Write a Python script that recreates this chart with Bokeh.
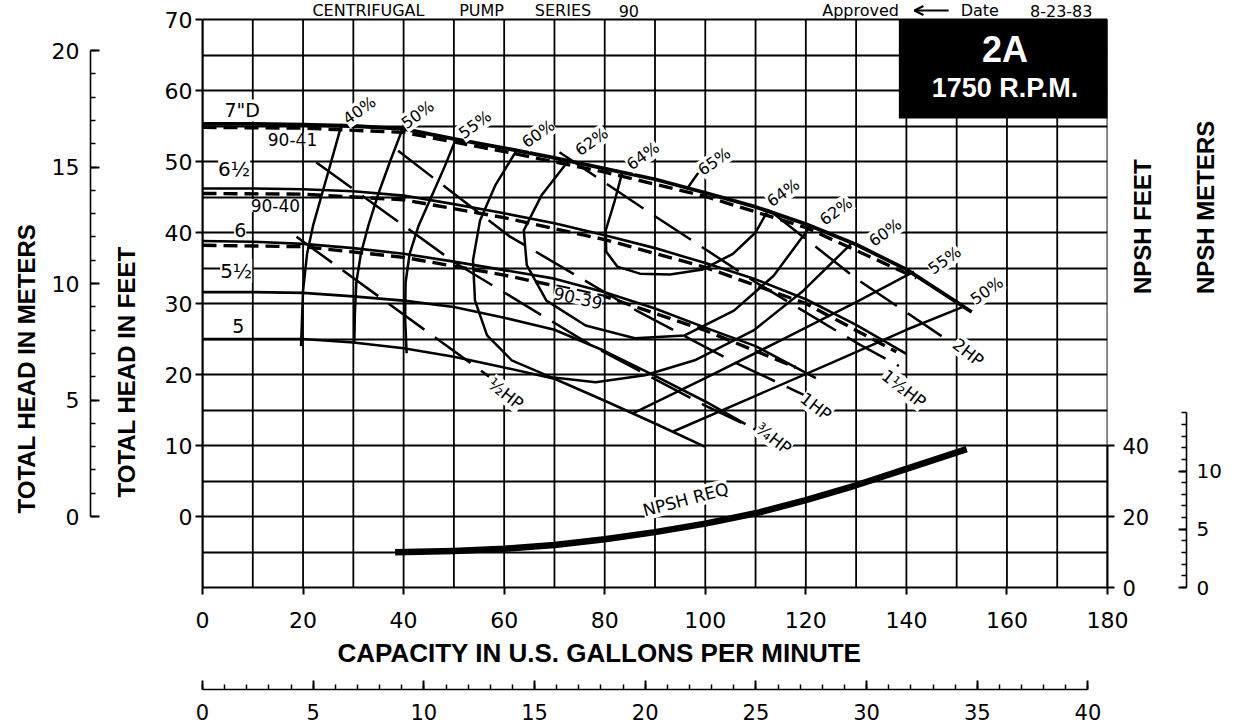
import math
from bokeh.plotting import figure
from bokeh.models import (Range1d, LinearAxis, FixedTicker, Label, BoxAnnotation,
                          Arrow, OpenHead, CustomJSTickFormatter, Title)
from bokeh.embed import file_html
from bokeh.resources import INLINE

# ---------------- data ----------------
gpm_ticks = [0, 20, 40, 60, 80, 100, 120, 140, 160, 180]
gpm_grid = [0, 10, 20, 30, 40, 50, 60, 70, 80, 90, 100, 110, 120, 130, 140, 150, 160, 170, 180]
head_ft_ticks = [0, 10, 20, 30, 40, 50, 60, 70]
head_ft_grid = [-10, -5, 0, 5, 10, 15, 20, 25, 30, 35, 40, 45, 50, 55, 60, 65, 70]
head_m_ticks = [0, 5, 10, 15, 20]
npsh_ft_ticks = [0, 20, 40]
npsh_m_ticks = [0, 5, 10]
m3h_ticks = [0, 5, 10, 15, 20, 25, 30, 35, 40]

FT_PER_M = 3.28084
GPM_PER_M3H = 4.40287

# head-capacity curves (capacity US gpm, total head ft)
d70_gpm = [0, 10, 20, 30, 40, 50, 60, 70, 80, 90, 100, 110, 120, 130, 140, 150, 153]
d70_ft = [55.3, 55.3, 55.2, 55.0, 54.6, 53.2, 51.9, 50.5, 49.0, 47.5, 45.6, 43.6, 41.2, 38.3, 34.8, 30.2, 28.8]
d65_gpm = [0, 10, 20, 30, 40, 50, 60, 70, 80, 90, 100, 110, 120, 130, 140]
d65_ft = [46.2, 46.2, 46.1, 45.8, 45.2, 44.0, 42.7, 41.3, 39.6, 37.8, 35.7, 33.4, 30.6, 27.0, 22.9]
d60_gpm = [0, 10, 20, 30, 40, 50, 60, 70, 80, 90, 100, 110, 122]
d60_ft = [38.8, 38.7, 38.4, 37.8, 37.0, 35.9, 34.7, 33.5, 31.6, 29.3, 26.6, 24.0, 19.5]
d55_gpm = [0, 10, 20, 30, 40, 50, 60, 70, 80, 90, 100, 108]
d55_ft = [31.6, 31.6, 31.5, 31.0, 30.4, 29.5, 28.0, 26.3, 23.3, 19.8, 16.2, 13.0]
d50_gpm = [0, 10, 20, 30, 40, 50, 60, 70, 80, 90, 100]
d50_ft = [25.0, 25.0, 25.0, 24.5, 23.7, 22.5, 21.0, 19.4, 16.3, 13.1, 9.8]

# test curves (dashed)
t9041_gpm = [0, 20, 40, 60, 80, 100, 120, 142]
t9041_ft = [54.8, 54.7, 54.1, 51.4, 48.5, 45.1, 40.7, 33.6]
t9040_gpm = [0, 20, 40, 60, 80, 100, 120, 138]
t9040_ft = [45.5, 45.4, 44.6, 42.1, 39.0, 35.1, 30.0, 23.2]
t9039_gpm = [0, 20, 40, 60, 80, 100, 118]
t9039_ft = [38.2, 38.0, 36.5, 34.0, 31.0, 26.2, 21.0]

# efficiency curves
e40_gpm = [19.6, 19.8, 20.0, 20.8, 22.0, 23.6, 25.4, 27.7]
e40_ft = [24.0, 28.0, 31.8, 37.0, 41.0, 45.0, 49.5, 55.3]
e50a_gpm = [30.2, 30.3, 30.6, 31.5, 33.0, 35.0, 37.3, 39.9]
e50a_ft = [24.4, 28.5, 33.0, 37.0, 41.0, 45.5, 50.0, 54.8]
e50b_gpm = [93.4, 110, 125, 140, 151.5]
e50b_ft = [11.9, 17.0, 21.6, 26.3, 29.6]
e55a_gpm = [40.6, 40.3, 40.4, 41.2, 43.0, 45.5, 48.0, 50.3]
e55a_ft = [23.0, 28.0, 33.0, 37.0, 41.0, 45.0, 49.0, 53.0]
e55b_gpm = [85.5, 100, 115, 130, 141.5]
e55b_ft = [14.5, 19.5, 24.8, 30.2, 34.5]
e60_gpm = [62.5, 58.2, 55.2, 53.8, 54.2, 56.6, 61.5, 69.4, 78.2, 88.0, 97.9, 109.6, 119.5, 129.3]
e60_ft = [51.6, 46.6, 41.7, 36.1, 30.4, 25.5, 22.0, 19.6, 18.9, 19.9, 22.0, 26.2, 31.8, 38.6]
e62_gpm = [72.9, 67.4, 63.9, 64.5, 68.4, 76.2, 86.0, 95.9, 105.7, 113.6, 121.0]
e62_ft = [50.2, 45.2, 40.3, 35.4, 30.4, 26.9, 25.1, 25.5, 29.0, 33.9, 41.0]
e64_gpm = [83.5, 82.0, 80.2, 80.3, 82.5, 87.0, 93.0, 99.5, 105.5, 110.0, 112.6]
e64_ft = [48.5, 44.5, 40.3, 37.3, 35.2, 34.2, 34.1, 34.8, 37.0, 40.0, 43.3]
e65_gpm = [96.3, 98.6]
e65_ft = [46.1, 48.4]

# brake horsepower lines
hp050_gpm = [18.7, 57.0]
hp050_ft = [39.4, 19.7]
hp075_gpm = [22.6, 50.1, 77.6, 100.0, 111.0]
hp075_ft = [49.9, 35.8, 24.0, 15.6, 11.9]
hp100_gpm = [38.9, 61.0, 85.0, 105.0, 120.0]
hp100_ft = [51.5, 39.5, 29.5, 22.0, 17.0]
hp150_gpm = [71.0, 90.0, 110.0, 130.0, 138.5]
hp150_ft = [51.3, 42.3, 33.0, 24.5, 21.2]
hp200_gpm = [113.0, 130.0, 147.0]
hp200_ft = [43.0, 33.5, 25.4]

# NPSH required (ft)
npsh_gpm = [38.3, 50, 60, 70, 80, 90, 100, 110, 120, 130, 140, 152]
npsh_ft = [9.9, 10.3, 10.9, 12.0, 13.6, 15.6, 18.0, 20.9, 24.6, 28.8, 33.4, 39.0]

# ---------------- figure ----------------
Y_TOP = 70 + 19 / 7.1          # frame reaches the top of the page (header lives inside)
p = figure(width=1235, height=727,
           x_range=Range1d(0, 180), y_range=Range1d(-10, Y_TOP),
           output_backend="svg", toolbar_location=None,
           min_border_left=202, min_border_right=117,
           min_border_top=0, min_border_bottom=140,
           background_fill_color="white", border_fill_color="white")
p.title.visible = False
p.outline_line_color = None

p.extra_x_ranges = {"m3h": Range1d(0, 180 / GPM_PER_M3H)}
p.extra_y_ranges = {"m": Range1d(-10 / FT_PER_M, Y_TOP / FT_PER_M),
                    "npsh": Range1d(0, (Y_TOP + 10) * 2),
                    "npshm": Range1d(0, (Y_TOP + 10) * 2 / FT_PER_M)}

# grid: horizontal lines via Grid, vertical lines stop at 70 ft
p.xgrid.visible = False
p.ygrid.ticker = FixedTicker(ticks=head_ft_grid)
p.ygrid.grid_line_color = "black"
p.ygrid.grid_line_width = 1.8
p.ygrid.grid_line_alpha = 1.0
p.segment(x0=gpm_grid, y0=[head_ft_grid[0]] * len(gpm_grid),
          x1=gpm_grid, y1=[head_ft_grid[-1]] * len(gpm_grid),
          line_color="black", line_width=1.8)

TICK_FONT = "DejaVu Sans"
BOLD = "Liberation Sans"


def style_axis(ax, size="22px"):
    ax.major_label_text_font = TICK_FONT
    ax.major_label_text_font_size = size
    ax.major_label_text_color = "black"
    ax.axis_line_color = "black"
    ax.axis_line_width = 2
    ax.major_tick_line_color = "black"
    ax.major_tick_line_width = 2
    ax.minor_tick_line_color = "black"
    ax.minor_tick_line_width = 1.5
    ax.minor_tick_in = 0
    ax.minor_tick_out = 0
    ax.axis_label_text_font = BOLD
    ax.axis_label_text_font_size = "24px"
    ax.axis_label_text_font_style = "bold"
    ax.axis_label_text_color = "black"


def spacer(size, tick, **kw):
    return LinearAxis(ticker=FixedTicker(ticks=[tick]),
                      formatter=CustomJSTickFormatter(code="return ''"),
                      major_tick_out=size, major_tick_in=0,
                      minor_tick_out=0, minor_tick_in=0,
                      major_tick_line_color=None, minor_tick_line_color=None,
                      axis_line_color=None, major_label_standoff=0,
                      major_label_text_font_size="1px", **kw)


def side_title(text, side, offset, standoff, size="24px"):
    p.add_layout(Title(text=text, align="left", vertical_align="middle",
                       offset=offset, standoff=standoff,
                       text_font=BOLD, text_font_size=size, text_font_style="bold",
                       text_color="black"), side)


# bottom: GPM
xa = p.xaxis[0]
style_axis(xa)
xa.ticker = FixedTicker(ticks=gpm_ticks)
xa.major_tick_out = 7
xa.major_tick_in = 0
xa.major_label_standoff = 17

# left: feet
ya = p.yaxis[0]
style_axis(ya)
ya.ticker = FixedTicker(ticks=head_ft_ticks)
ya.bounds = (-10, 70)
ya.major_tick_out = 7
ya.major_tick_in = 0
ya.major_label_standoff = 3

side_title("TOTAL HEAD IN FEET", "left", offset=90, standoff=42)
ma = LinearAxis(y_range_name="m",
                ticker=FixedTicker(ticks=head_m_ticks, minor_ticks=list(range(0, 21))),
                bounds=(0, 20))
style_axis(ma)
ma.axis_line_width = 1.6
ma.major_tick_in = 9
ma.major_tick_out = 0
ma.minor_tick_in = 5
ma.minor_tick_out = 0
ma.major_label_standoff = 11
p.add_layout(ma, "left")
side_title("TOTAL HEAD IN METERS", "left", offset=74, standoff=16)

# bottom title, spacer, m3/h axis
side_title("CAPACITY IN U.S. GALLONS PER MINUTE", "below", offset=135, standoff=13, size="26px")
p.add_layout(spacer(14, 90), "below")
qa = LinearAxis(x_range_name="m3h",
                ticker=FixedTicker(ticks=m3h_ticks, minor_ticks=list(range(0, 41))),
                bounds=(0, 40))
style_axis(qa, "21px")
qa.axis_line_width = 1.6
qa.major_tick_in = 9
qa.major_tick_out = 0
qa.minor_tick_in = 5
qa.minor_tick_out = 0
qa.major_label_standoff = 14
p.add_layout(qa, "below")

# right: NPSH feet, spacer, NPSH meters
na = LinearAxis(y_range_name="npsh", ticker=FixedTicker(ticks=npsh_ft_ticks), bounds=(0, 40))
style_axis(na, "21px")
na.major_tick_out = 7
na.major_tick_in = 0
na.major_label_standoff = 8
na.axis_label = "NPSH FEET"
na.axis_label_standoff = -10
p.add_layout(na, "right")
p.add_layout(spacer(14, 20, y_range_name="npsh"), "right")
nm = LinearAxis(y_range_name="npshm",
                ticker=FixedTicker(ticks=npsh_m_ticks, minor_ticks=list(range(0, 16))),
                bounds=(0, 15))
style_axis(nm, "20px")
nm.axis_line_width = 1.6
nm.major_tick_in = 8
nm.major_tick_out = 0
nm.minor_tick_in = 5
nm.minor_tick_out = 0
nm.major_label_standoff = 10
nm.axis_label = "NPSH METERS"
nm.axis_label_standoff = -19
p.add_layout(nm, "right")
for ax in (na, nm):
    try:
        ax.axis_label_orientation = math.pi / 2
    except Exception:
        pass


# ---------------- curves ----------------
def curve(xs, ys, width=2.6, dash="solid", rng="default"):
    p.line(xs, ys, line_color="black", line_width=width, line_dash=dash,
           y_range_name=rng, line_join="round", line_cap="butt")


for xs, ys in [(t9041_gpm, t9041_ft), (t9040_gpm, t9040_ft), (t9039_gpm, t9039_ft)]:
    curve(xs, ys, width=3.4, dash="14 7")

curve(d70_gpm, d70_ft, width=3.8)
for xs, ys in [(d65_gpm, d65_ft), (d60_gpm, d60_ft), (d55_gpm, d55_ft), (d50_gpm, d50_ft)]:
    curve(xs, ys, width=2.6)

for xs, ys in [(e40_gpm, e40_ft), (e50a_gpm, e50a_ft), (e50b_gpm, e50b_ft),
               (e55a_gpm, e55a_ft), (e55b_gpm, e55b_ft), (e60_gpm, e60_ft),
               (e62_gpm, e62_ft), (e64_gpm, e64_ft), (e65_gpm, e65_ft)]:
    curve(xs, ys, width=2.5)

for xs, ys in [(hp050_gpm, hp050_ft), (hp075_gpm, hp075_ft), (hp100_gpm, hp100_ft),
               (hp150_gpm, hp150_ft), (hp200_gpm, hp200_ft)]:
    curve(xs, ys, width=2.5, dash="44 13")

curve(npsh_gpm, npsh_ft, width=6.5, rng="npsh")

# ---------------- texts inside the frame ----------------
DRAFT = "DejaVu Sans"


def lab(txt, x, y, size="17px", angle=0.0, font=DRAFT, style="normal",
        color="black", bg="white", align="center", baseline="middle"):
    p.add_layout(Label(x=x, y=y, text=txt, text_font=font, text_font_size=size,
                       text_font_style=style, angle=angle, text_align=align,
                       text_baseline=baseline, text_color=color,
                       background_fill_color=bg))


lab('7"D', 7.9, 57.2, "19px")
lab("90-41", 17.9, 53.1, "17px")
lab("6½", 6.3, 49.0, "20px")
lab("90-40", 14.5, 43.8, "17px")
lab("6", 7.5, 40.4, "19px")
lab("5½", 6.7, 34.6, "20px")
lab("5", 7.1, 26.9, "19px")
lab("90-39", 74.7, 30.8, "17px", angle=-0.22)
lab("NPSH REQ", 96.1, 2.4, "17px", angle=0.26)

PCT = 0.62
for txt, x, y in [("40%", 31.2, 57.2), ("50%", 42.8, 56.6), ("55%", 54.2, 55.2),
                  ("60%", 66.8, 53.9), ("62%", 77.4, 52.8), ("64%", 87.6, 50.8),
                  ("65%", 101.8, 50.0), ("64%", 115.5, 45.6), ("62%", 126.0, 43.0),
                  ("60%", 135.8, 40.0), ("55%", 147.6, 36.1), ("50%", 156.0, 31.8)]:
    lab(txt, x, y, "16px", angle=PCT)

HPA = -0.66
for txt, x, y in [("½HP", 60.3, 17.3), ("¾HP", 113.6, 11.0), ("1HP", 122.0, 15.5),
                  ("1½HP", 139.5, 18.0), ("2HP", 152.3, 23.1)]:
    lab(txt, x, y, "17px", angle=HPA)

# header (above the 70 ft line), kept fully inside the page
HDR_Y = 70 + 9.0 / 7.1
for txt, x in [("CENTRIFUGAL", 33.0), ("PUMP", 55.5), ("SERIES", 71.7), ("90", 84.8)]:
    lab(txt, x, HDR_Y, "16px", bg=None)
lab("Approved", 130.9, HDR_Y, "16px", bg=None)
lab("Date", 154.6, HDR_Y, "16px", bg=None)
lab("8-23-83", 170.8, HDR_Y, "16px", bg=None)
p.add_layout(Arrow(end=OpenHead(size=9, line_width=2, line_color="black"),
                   x_start=148.4, y_start=HDR_Y, x_end=141.6, y_end=HDR_Y,
                   line_width=2, line_color="black"))

# black label box
p.add_layout(BoxAnnotation(left=138.5, right=180.8, top=70, bottom=56.06,
                           fill_color="black", fill_alpha=1.0, line_color=None))
lab("2A", 159.6, 65.8, "36px", font=BOLD, style="bold", color="white", bg=None)
lab("1750 R.P.M.", 159.6, 60.4, "27px", font=BOLD, style="bold", color="white", bg=None)

open("out.html", "w").write(file_html(p, INLINE))
